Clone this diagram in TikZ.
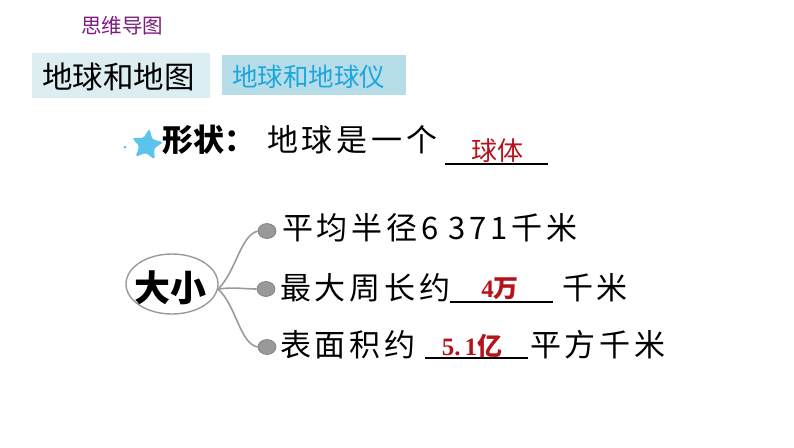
\documentclass[tikz,border=0pt]{standalone}
\usepackage{fontspec}
\setmainfont{Liberation Serif}
\newfontfamily\cjk{Noto Sans CJK SC}
\usetikzlibrary{shapes.geometric}
\definecolor{purp}{HTML}{7E1A80}
\definecolor{boxa}{HTML}{DDEEF3}
\definecolor{boxb}{HTML}{B7DDE8}
\definecolor{cyantxt}{HTML}{1BA6DE}
\definecolor{ans}{HTML}{B5121B}
\definecolor{starblue}{HTML}{5BC3EE}
\definecolor{branch}{HTML}{9A9A9A}
\tikzset{
  txt/.style={inner sep=0pt, anchor=west, font=\fontsize{31}{36}\selectfont\cjk\addfontfeature{LetterSpace=12}},
  anstxt/.style={inner sep=0pt, text=ans, font=\fontsize{25}{28}\selectfont\bfseries},
  blank/.style={line width=2.6pt, black},
  dot/.style={ellipse, minimum width=18pt, minimum height=15pt, inner sep=0pt, fill=gray!80, draw=gray!95!black, line width=0.6pt},
  br/.style={branch, line width=1.6pt}
}
\begin{document}
\begin{tikzpicture}[x=1pt,y=-1pt]
\useasboundingbox (0,0) rectangle (794,447);
% header
\node[inner sep=0pt, text=purp, font=\fontsize{20.5}{24}\selectfont\cjk] (title) at (122,26) {思维导图};
\fill[boxa] (32,53) rectangle (210,98);
\node[inner sep=0pt, anchor=west, font=\fontsize{30.5}{36}\selectfont\cjk] (t1) at (42,77) {地球和地图};
\fill[boxb] (222,55) rectangle (406,95);
\node[inner sep=0pt, anchor=west, text=cyantxt, font=\fontsize{25.5}{30}\selectfont\cjk] (t2) at (232,77) {地球和地球仪};
% shape line
\fill[starblue] (125,147) circle (1.5);
\node[star, star points=5, star point ratio=2.1, fill=starblue, rounded corners=2.5pt, minimum size=33pt, inner sep=0pt, rotate=-8] (star) at (147,145) {};
\node[inner sep=0pt, anchor=west, font=\fontsize{31}{36}\selectfont\cjk\bfseries] (shape) at (162,140) {形状：};
\node[txt] (s1) at (267,140) {地球是一个};
\coordinate (u1a) at (445,164);
\coordinate (u1b) at (548,164);
\draw[blank] (u1a) -- (u1b);
\node[anstxt, font=\fontsize{26}{28}\selectfont\cjk] (a1) at (497,151) {球体};
% size
\node[ellipse, draw=branch, line width=1.4pt, minimum width=92pt, minimum height=60pt, inner sep=0pt] (big) at (172,284) {};
\node[inner sep=0pt, font=\fontsize{36}{40}\selectfont\cjk\bfseries] (bigt) at (170,288) {大小};
\coordinate (root) at (218,289);
\node[dot] (d1) at (267,231) {};
\node[dot] (d2) at (266,289) {};
\node[dot] (d3) at (267,347) {};
\draw[br] (root) .. controls (236,272) and (240,236) .. (d1.west);
\draw[br] (root) .. controls (235,287) and (245,289) .. (d2.west);
\draw[br] (root) .. controls (236,305) and (240,344) .. (d3.west);
\node[txt] (l1) at (282,228) {平均半径6 371千米};
\node[txt] (l2) at (280,288) {最大周长约};
\coordinate (u2a) at (450,302);
\coordinate (u2b) at (553,302);
\draw[blank] (u2a) -- (u2b);
\node[anstxt] (a2) at (500,289) {4\cjk 万};
\node[txt] (l2b) at (562,288) {千米};
\node[txt] (l3) at (280,345) {表面积约};
\coordinate (u3a) at (425,358);
\coordinate (u3b) at (528,358);
\draw[blank] (u3a) -- (u3b);
\node[anstxt] (a3) at (472,346) {5.\,1\cjk 亿};
\node[txt] (l3b) at (530,345) {平方千米};
\end{tikzpicture}
\end{document}
